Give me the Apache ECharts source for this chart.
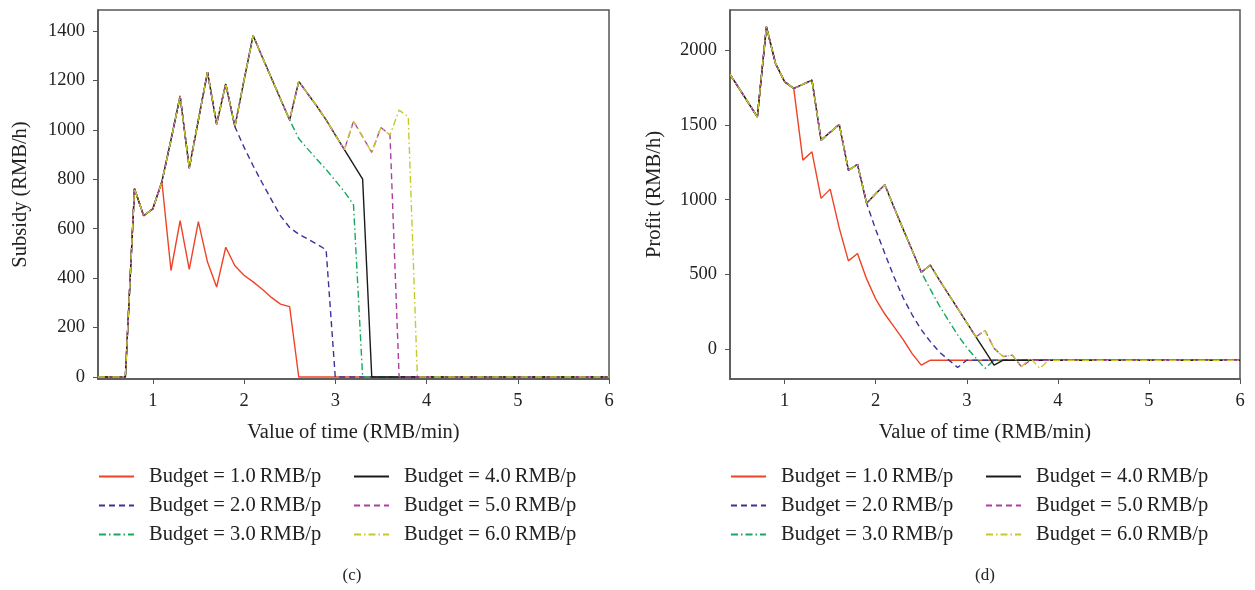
<!DOCTYPE html>
<html>
<head>
<meta charset="utf-8">
<script src="https://cdn.jsdelivr.net/npm/echarts@6/dist/echarts.min.js"></script>
<style>html,body{margin:0;padding:0;background:#fff}#c{width:1255px;height:590px}</style>
</head>
<body>
<div id="c"></div>
<script>
// x values (value of time, RMB/min); last point is the right end of the axis
const X = [0.4,0.5,0.6,0.7,0.8,0.9,1.0,1.1,1.2,1.3,1.4,1.5,1.6,1.7,1.8,1.9,2.0,2.1,2.2,2.3,2.4,2.5,2.6,2.7,2.8,2.9,3.0,3.1,3.2,3.3,3.4,3.5,3.6,3.7,3.8,3.9,6.0];

const names = ["Budget = 1.0\u2009RMB/p","Budget = 2.0\u2009RMB/p","Budget = 3.0\u2009RMB/p","Budget = 4.0\u2009RMB/p","Budget = 5.0\u2009RMB/p","Budget = 6.0\u2009RMB/p"];

// Subsidy (RMB/h)
const sub1 = [0,0,0,0,762,653,680,790,431,633,436,629,465,364,525,450,412,385,355,322,295,285,0,0,0,0,0,0,0,0,0,0,0,0,0,0,0];
const sub2 = [0,0,0,0,762,653,680,790,960,1137,845,1040,1234,1023,1186,1013,930,855,785,718,652,605,578,558,537,515,0,0,0,0,0,0,0,0,0,0,0];
const sub3 = [0,0,0,0,762,653,680,790,960,1137,845,1040,1234,1023,1186,1013,1200,1382,1295,1210,1125,1040,965,922,880,840,795,750,697,0,0,0,0,0,0,0,0];
const sub4 = [0,0,0,0,762,653,680,790,960,1137,845,1040,1234,1023,1186,1013,1200,1382,1295,1210,1125,1040,1196,1145,1095,1040,980,920,860,801,0,0,0,0,0,0,0];
const sub5 = [0,0,0,0,762,653,680,790,960,1137,845,1040,1234,1023,1186,1013,1200,1382,1295,1210,1125,1040,1196,1145,1095,1040,980,920,1035,972,909,1010,979,0,0,0,0];
const sub6 = [0,0,0,0,762,653,680,790,960,1137,845,1040,1234,1023,1186,1013,1200,1382,1295,1210,1125,1040,1196,1145,1095,1040,980,920,1035,972,909,1010,979,1080,1053,0,0];

// Profit (RMB/h)
const pro1 = [1839,1745,1650,1555,2157,1912,1790,1745,1265,1321,1009,1071,810,591,640,470,335,235,150,65,-30,-107,-74,-74,-74,-74,-74,-74,-74,-74,-74,-74,-74,-74,-74,-74,-74];
const pro2 = [1839,1745,1650,1555,2157,1912,1790,1745,1772,1800,1399,1452,1504,1198,1236,977,800,640,485,345,230,130,50,-20,-72,-123,-74,-74,-74,-74,-74,-74,-74,-74,-74,-74,-74];
const pro3 = [1839,1745,1650,1555,2157,1912,1790,1745,1772,1800,1399,1452,1504,1198,1236,977,1040,1100,950,805,662,515,400,290,190,95,10,-60,-129,-74,-74,-74,-74,-74,-74,-74,-74];
const pro4 = [1839,1745,1650,1555,2157,1912,1790,1745,1772,1800,1399,1452,1504,1198,1236,977,1040,1100,950,805,662,515,562,462,367,272,177,82,-12,-107,-74,-74,-74,-74,-74,-74,-74];
const pro5 = [1839,1745,1650,1555,2157,1912,1790,1745,1772,1800,1399,1452,1504,1198,1236,977,1040,1100,950,805,662,515,562,462,367,272,177,82,125,5,-50,-40,-118,-74,-74,-74,-74];
const pro6 = [1839,1745,1650,1555,2157,1912,1790,1745,1772,1800,1399,1452,1504,1198,1236,977,1040,1100,950,805,662,515,562,462,367,272,177,82,125,5,-50,-40,-118,-60,-129,-74,-74];

const xTicks = [1,2,3,4,5,6];
const subTicks = [0,200,400,600,800,1000,1200,1400];
const proTicks = [0,500,1000,1500,2000];

const colors = ["#ee4326","#3b3399","#15a85e","#1a1a1a","#ad3fa0","#c4ca2e"];
const dashes = ["solid",[6,4],[7,3,1.5,3],"solid",[6,4],[7,3,1.5,3]];

const FONT = "Liberation Serif";

function pairs(ys){ return ys.map((y,i)=>[X[i],y]); }

function xAxis(gi){
  return {
    type:"value", gridIndex:gi, min:0.4, max:6,
    name:"Value of time (RMB/min)", nameLocation:"middle", nameGap:43,
    nameTextStyle:{fontFamily:FONT,fontSize:20.5,color:"#222"},
    axisLine:{onZero:false,lineStyle:{color:"#555",width:1.5}},
    axisTick:{show:true,inside:false,length:5,customValues:xTicks,lineStyle:{color:"#555"}},
    axisLabel:{customValues:xTicks,margin:13,fontFamily:FONT,fontSize:18.5,color:"#222",formatter:v=>String(v)},
    splitLine:{show:false}
  };
}
function yAxis(gi,min,max,ticks,name,gap){
  return {
    type:"value", gridIndex:gi, min:min, max:max,
    name:name, nameLocation:"middle", nameGap:gap,
    nameTextStyle:{fontFamily:FONT,fontSize:20.5,color:"#222"},
    axisLine:{show:true,onZero:false,lineStyle:{color:"#555",width:1.5}},
    axisTick:{show:true,inside:false,length:5,customValues:ticks,lineStyle:{color:"#555"}},
    axisLabel:{customValues:ticks,margin:13,fontFamily:FONT,fontSize:18.5,color:"#222",formatter:v=>String(v)},
    splitLine:{show:false}
  };
}

const subs=[sub1,sub2,sub3,sub4,sub5,sub6];
const pros=[pro1,pro2,pro3,pro4,pro5,pro6];
const series=[];
subs.forEach((d,i)=>series.push({name:names[i],type:"line",xAxisIndex:0,yAxisIndex:0,data:pairs(d),symbol:"none",
  lineStyle:{color:colors[i],width:1.4,type:dashes[i]},itemStyle:{color:colors[i]},animation:false}));
pros.forEach((d,i)=>series.push({name:names[i],type:"line",xAxisIndex:1,yAxisIndex:1,data:pairs(d),symbol:"none",
  lineStyle:{color:colors[i],width:1.4,type:dashes[i]},itemStyle:{color:colors[i]},animation:false}));

function legend(left,top,data){
  return {orient:"vertical",left:left,top:top,data:data,itemWidth:35,itemHeight:14,itemGap:8,
    itemStyle:{opacity:0},
    textStyle:{fontFamily:FONT,fontSize:20.5,color:"#222",padding:[0,0,0,10]},selectedMode:false};
}

const chart = echarts.init(document.getElementById("c"),null,{renderer:"canvas"});
chart.setOption({
  backgroundColor:"#fff",
  animation:false,
  grid:[
    {left:98,right:646,top:10,bottom:211,show:true,borderColor:"#555",borderWidth:1.5,containLabel:false},
    {left:730,right:15,top:10,bottom:211,show:true,borderColor:"#555",borderWidth:1.5,containLabel:false}
  ],
  xAxis:[xAxis(0),xAxis(1)],
  yAxis:[yAxis(0,-8,1485,subTicks,"Subsidy (RMB/h)",67),yAxis(1,-200,2270,proTicks,"Profit (RMB/h)",65)],
  legend:[
    legend(93,461,names.slice(0,3)),
    legend(348,461,names.slice(3,6)),
    legend(725,461,names.slice(0,3)),
    legend(980,461,names.slice(3,6))
  ],
  series:series,
  graphic:[
    {type:"text",x:352,y:567,style:{text:"(c)",font:"17px '"+FONT+"'",fill:"#222",align:"center"}},
    {type:"text",x:985,y:567,style:{text:"(d)",font:"17px '"+FONT+"'",fill:"#222",align:"center"}}
  ]
});
</script>
</body>
</html>
